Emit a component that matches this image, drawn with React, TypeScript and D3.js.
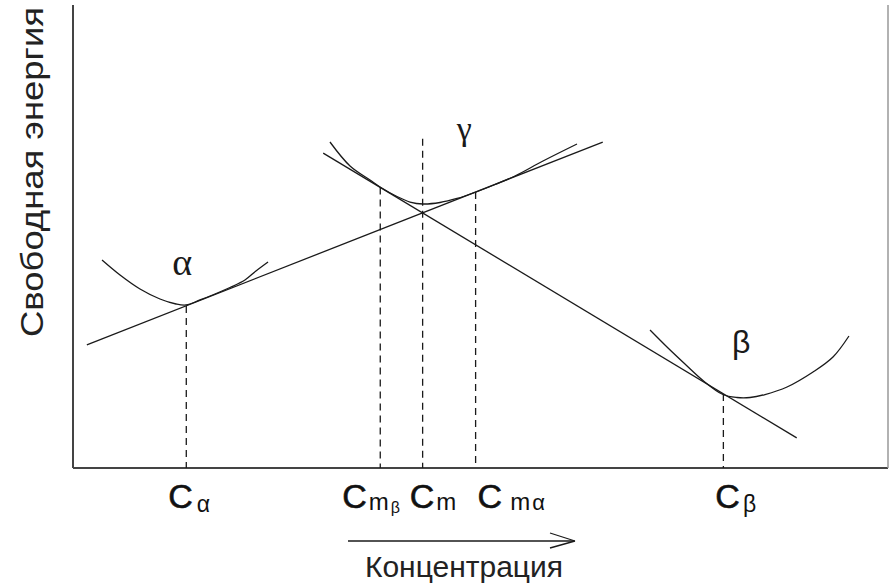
import React from "react";
import * as d3 from "d3";

// ---- data (concentration %, free energy in arbitrary units 0..100) ----
const commonTangentAlphaGamma: [number, number][] = [
  [1.7, 26.6],
  [65.0, 70.4],
];
const commonTangentGammaBeta: [number, number][] = [
  [30.7, 68.0],
  [88.8, 6.5],
];
const alphaCurve: [number, number][] = [
  [3.56, 44.92], [5.77, 41.68], [8.22, 38.66], [10.67, 36.5], [12.64, 35.42],
  [13.87, 35.21], [15.58, 36.29], [17.42, 37.58], [19.26, 38.98], [21.1, 40.6],
  [22.45, 42.55], [23.93, 44.49],
];
const gammaCurve: [number, number][] = [
  [31.53, 70.41], [33.99, 65.23], [36.44, 62.2], [37.67, 60.69], [39.75, 58.64],
  [41.35, 57.45], [42.94, 57.02], [45.03, 57.34], [47.12, 58.21], [49.45, 59.61],
  [51.78, 61.23], [54.23, 63.07], [57.67, 66.31], [61.84, 69.98],
];
const betaCurve: [number, number][] = [
  [70.8, 29.81], [73.01, 25.92], [75.09, 22.46], [77.3, 18.9], [79.75, 15.87],
  [81.47, 15.23], [83.07, 15.23], [84.91, 15.87], [87.61, 17.49], [90.8, 20.73],
  [93.25, 23.97], [95.21, 28.51],
];
const tickConc = [13.9, 37.7, 42.9, 49.4, 79.8];
const tickTop = [35.0, 60.6, 71.1, 59.6, 16.0];
const tickSubA = ["α", "m", "m", "m", "β"];
const tickSubB = ["", "β", "", "α", ""];
const phaseNames = ["α", "γ", "β"];
const phaseLabelPos: [number, number][] = [
  [13.4, 41.7],
  [48.0, 70.8],
  [82.0, 24.8],
];
const xTitle = "Концентрация";
const yTitle = "Свободная энергия";

// ---- layout (not data) ----
const W = 896;
const H = 586;
const INK = "#1a1a1a";
const AXIS = "#444";
const labelDx = [-18, -38, -13, 2, -8];
const subAdx = [4, 2, 2, 8, 3];
const phaseFont = ["serif", "serif", "sans"];
const phaseSize = [38, 34, 32];

export default function App() {
  const x = d3.scaleLinear().domain([0, 100]).range([73, 888]);
  const y = d3.scaleLinear().domain([0, 100]).range([468, 5]);
  const straight = d3
    .line<[number, number]>()
    .x((d) => x(d[0]))
    .y((d) => y(d[1]));
  const smooth = d3
    .line<[number, number]>()
    .x((d) => x(d[0]))
    .y((d) => y(d[1]))
    .curve(d3.curveCatmullRom.alpha(0.5));

  const sans = "'Liberation Sans', Arial, sans-serif";
  const serif = "'Liberation Serif', 'Times New Roman', serif";

  return (
    <svg
      width={W}
      height={H}
      style={{ position: "absolute", left: 0, top: 0, background: "#fff" }}
    >
      {/* axes */}
      <line x1={x(0)} x2={x(0)} y1={y(100)} y2={y(0)} stroke={AXIS} strokeWidth={2} />
      <line x1={x(0)} x2={x(100)} y1={y(0)} y2={y(0)} stroke={AXIS} strokeWidth={2} />
      <line x1={x(100)} x2={x(100)} y1={y(100)} y2={y(0)} stroke="#999" strokeWidth={1.5} />

      {/* dashed concentration markers */}
      {tickConc.map((c, i) => (
        <line
          key={"d" + i}
          x1={x(c)}
          x2={x(c)}
          y1={y(tickTop[i])}
          y2={y(0)}
          stroke={INK}
          strokeWidth={1.3}
          strokeDasharray="7,5"
        />
      ))}

      {/* common tangents */}
      <path d={straight(commonTangentAlphaGamma) || ""} fill="none" stroke={INK} strokeWidth={1.3} />
      <path d={straight(commonTangentGammaBeta) || ""} fill="none" stroke={INK} strokeWidth={1.3} />

      {/* free-energy curves */}
      {[alphaCurve, gammaCurve, betaCurve].map((c, i) => (
        <path key={"c" + i} d={smooth(c) || ""} fill="none" stroke={INK} strokeWidth={1.3} />
      ))}

      {/* phase labels */}
      {phaseNames.map((n, i) => (
        <text
          key={"p" + i}
          x={x(phaseLabelPos[i][0])}
          y={y(phaseLabelPos[i][1])}
          textAnchor="middle"
          fontFamily={phaseFont[i] === "sans" ? sans : serif}
          fontSize={phaseSize[i]}
          fill={INK}
        >
          {n}
        </text>
      ))}

      {/* concentration tick labels */}
      {tickConc.map((c, i) => (
        <text
          key={"t" + i}
          x={x(c) + labelDx[i]}
          y={508}
          fontFamily={sans}
          fill="#111"
        >
          <tspan fontSize={34} stroke="#111" strokeWidth={0.6}>C</tspan>
          <tspan
            fontSize={tickSubA[i] === "m" ? 24 : 23}
            dx={subAdx[i]}
            dy={tickSubA[i] === "m" ? 2 : 4}
          >
            {tickSubA[i]}
          </tspan>
          {tickSubB[i] && (
            <tspan fontSize={tickSubB[i] === "β" ? 16 : 22} dx={2} dy={tickSubB[i] === "β" ? 3 : 0}>
              {tickSubB[i]}
            </tspan>
          )}
        </text>
      ))}

      {/* x title with arrow */}
      <line x1={348} x2={574} y1={541} y2={541} stroke={INK} strokeWidth={1.5} />
      <line x1={550} x2={575} y1={533} y2={541} stroke={INK} strokeWidth={1.3} />
      <line x1={550} x2={575} y1={548} y2={541} stroke={INK} strokeWidth={1.3} />
      <text x={464} y={577} textAnchor="middle" fontFamily={sans} fontSize={30} fill="#222">
        {xTitle}
      </text>

      {/* y title */}
      <text
        transform={`translate(43,172) rotate(-90)`}
        textAnchor="middle"
        fontFamily={sans}
        fontSize={32}
        textLength={330}
        lengthAdjust="spacingAndGlyphs"
        fill="#222"
      >
        {yTitle}
      </text>
    </svg>
  );
}
